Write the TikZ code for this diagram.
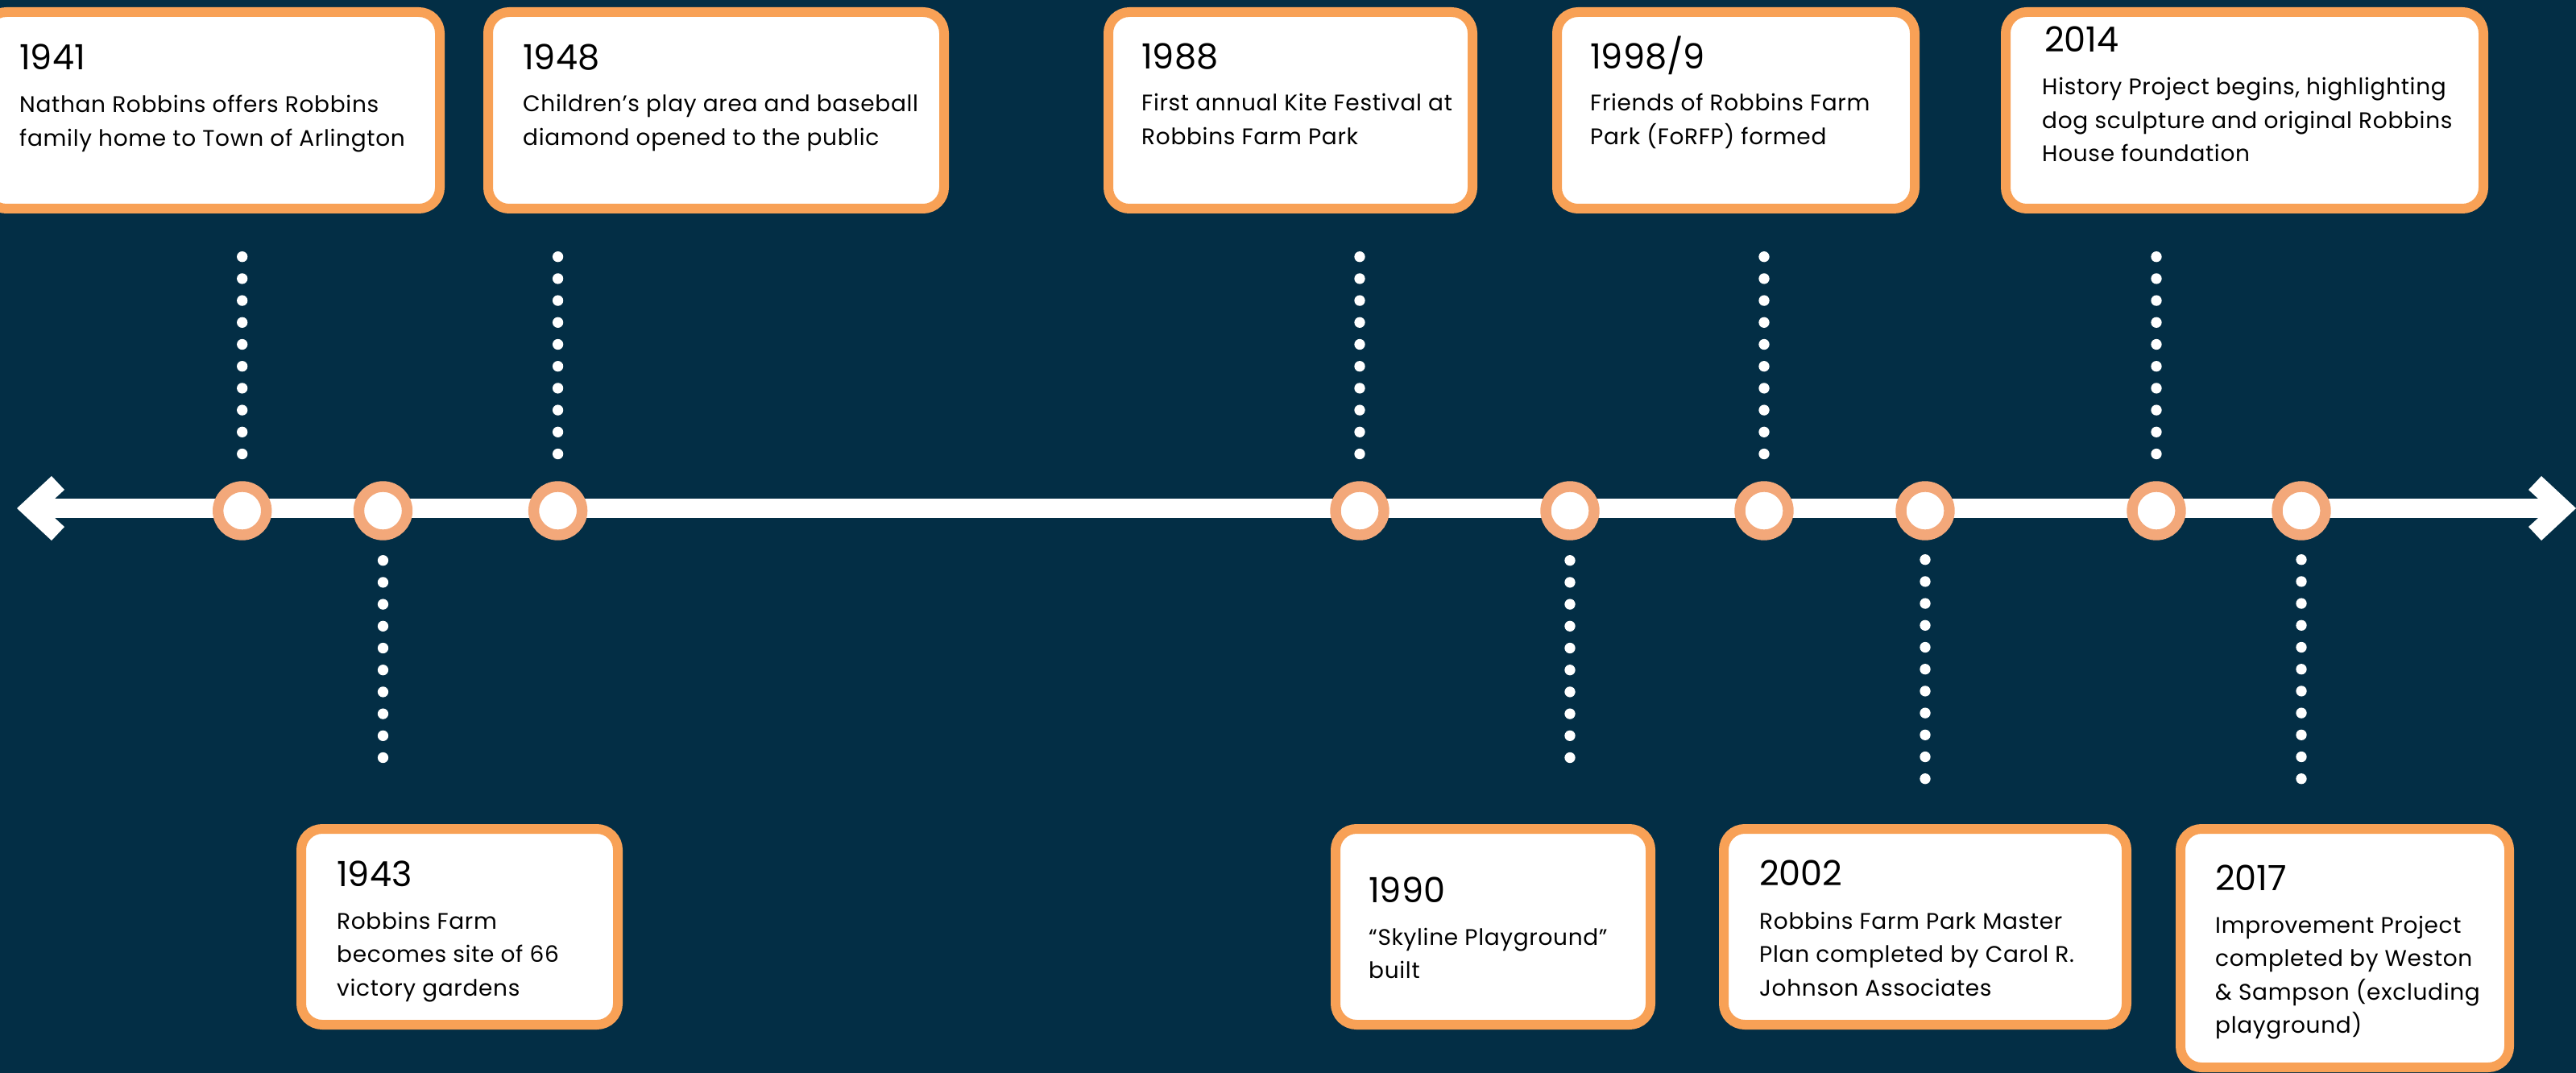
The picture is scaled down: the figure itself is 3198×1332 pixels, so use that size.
\documentclass[tikz,border=0pt]{standalone}
\usepackage{fontspec}
\setmainfont{Poppins}
\newfontfamily\blurbfont[LetterSpace=2.4]{Poppins}
\usepackage{tikz}
\usetikzlibrary{calc}
\usepackage{xcolor}

\definecolor{night}{HTML}{032E45}
\definecolor{apricot}{HTML}{F8A156}
\definecolor{peach}{HTML}{F3A87A}

\newcommand{\cardtext}[1]{\begin{tabular}[t]{@{}l@{}}#1\end{tabular}}

\tikzset{
  card/.style={draw=apricot, fill=white, line width=12pt, rounded corners=26pt, inner sep=0pt},
  year/.style={anchor=base west, inner sep=0pt, font=\fontsize{43}{50}\selectfont},
  blurb/.style={anchor=base west, inner sep=0pt, font=\blurbfont\fontsize{28}{41.5}\selectfont},
  event/.style={circle, draw=peach, fill=white, line width=13.4pt, minimum size=60pt, inner sep=0pt},
  trail/.style={white, line width=13.3pt, line cap=round, dash pattern=on 0pt off 27.2pt}
}

\begin{document}
\begin{tikzpicture}[x=1pt, y=-1pt]

      \useasboundingbox (0,0) rectangle (3198,1332);
      \fill[night] (0,0) rectangle (3198,1332);

      % the time line
      \coordinate (west) at (68,631);
      \coordinate (east) at (3151,631);
      \draw[white, line width=24pt] (west) -- (east);
      \fill[white] (21,631) -- (64,591) -- (80,608) -- (68,619) -- (68,643) -- (80,654) -- (64,671) -- cycle;
      \fill[white] (3198,631) -- (3155,591) -- (3139,608) -- (3151,619) -- (3151,643) -- (3139,654) -- (3155,671) -- cycle;

      \node[event] (c1) at (300.7,634) {};
      \node[event] (c2) at (475.5,634) {};
      \node[event] (c3) at (692.6,634) {};
      \node[event] (c4) at (1688,634) {};
      \node[event] (c5) at (1949,634) {};
      \node[event] (c6) at (2190,634) {};
      \node[event] (c7) at (2390,634) {};
      \node[event] (c8) at (2677,634) {};
      \node[event] (c9) at (2857,634) {};

      % cards above
      \node[card, minimum width=564pt, minimum height=244pt] (b41) at (264,137) {};
      \node[card, minimum width=566pt, minimum height=244pt] (b48) at (889,137) {};
      \node[card, minimum width=452pt, minimum height=244pt] (b88) at (1602,137) {};
      \node[card, minimum width=444pt, minimum height=244pt] (b98) at (2155,137) {};
      \node[card, minimum width=593pt, minimum height=244pt] (b14) at (2786.5,137) {};

      % cards below
      \node[card, minimum width=393pt, minimum height=243pt] (b43) at (570.5,1150.5) {};
      \node[card, minimum width=391pt, minimum height=243pt] (b90) at (1853.5,1150.5) {};
      \node[card, minimum width=500pt, minimum height=243pt] (b02) at (2390,1150.5) {};
      \node[card, minimum width=408pt, minimum height=296pt] (b17) at (2911,1177) {};

      % dotted links
      \draw[trail, shorten <=53.7pt, shorten >=19pt] (b41.south -| c1) -- (c1.north);
      \draw[trail, shorten <=53.7pt, shorten >=19pt] (b48.south -| c3) -- (c3.north);
      \draw[trail, shorten <=53.7pt, shorten >=19pt] (b88.south -| c4) -- (c4.north);
      \draw[trail, shorten <=53.7pt, shorten >=19pt] (b98.south -| c6) -- (c6.north);
      \draw[trail, shorten <=53.7pt, shorten >=19pt] (b14.south -| c8) -- (c8.north);
      \draw[trail, shorten <=25pt, shorten >=67pt] (c2.south) -- (b43.north -| c2);
      \draw[trail, shorten <=25pt, shorten >=67pt] (c5.south) -- (b90.north -| c5);
      \draw[trail, shorten <=24pt, shorten >=41pt] (c7.south) -- (b02.north -| c7);
      \draw[trail, shorten <=24pt, shorten >=41pt] (c9.south) -- (b17.north -| c9);

      % texts
      \node[year] (y41) at (24,87) {1941};
      \node[blurb] (t41) at (24,140) {\cardtext{Nathan Robbins offers Robbins\\family home to Town of Arlington}};
      \node[year] (y48) at (649,87) {1948};
      \node[blurb] (t48) at (649,139) {\cardtext{Children’s play area and baseball\\diamond opened to the public}};
      \node[year] (y88) at (1417,86) {1988};
      \node[blurb] (t88) at (1417,138) {\cardtext{First annual Kite Festival at\\Robbins Farm Park}};
      \node[year] (y98) at (1974,86) {1998/9};
      \node[blurb] (t98) at (1974,138) {\cardtext{Friends of Robbins Farm\\Park (FoRFP) formed}};
      \node[year] (y14) at (2538,65) {2014};
      \node[blurb] (t14) at (2535,118) {\cardtext{History Project begins, highlighting\\dog sculpture and original Robbins\\House foundation}};

      \node[year] (y43) at (418,1100) {1943};
      \node[blurb] (t43) at (418,1153) {\cardtext{Robbins Farm\\becomes site of 66\\victory gardens}};
      \node[year] (y90) at (1699,1120) {1990};
      \node[blurb] (t90) at (1699,1173) {\cardtext{“Skyline Playground”\\built}};
      \node[year] (y02) at (2184,1099) {2002};
      \node[blurb] (t02) at (2184,1153) {\cardtext{Robbins Farm Park Master\\Plan completed by Carol R.\\Johnson Associates}};
      \node[year] (y17) at (2750,1105) {2017};
      \node[blurb] (t17) at (2750,1158) {\cardtext{Improvement Project\\completed by Weston\\\& Sampson (excluding\\playground)}};

    \end{tikzpicture}
\end{document}
